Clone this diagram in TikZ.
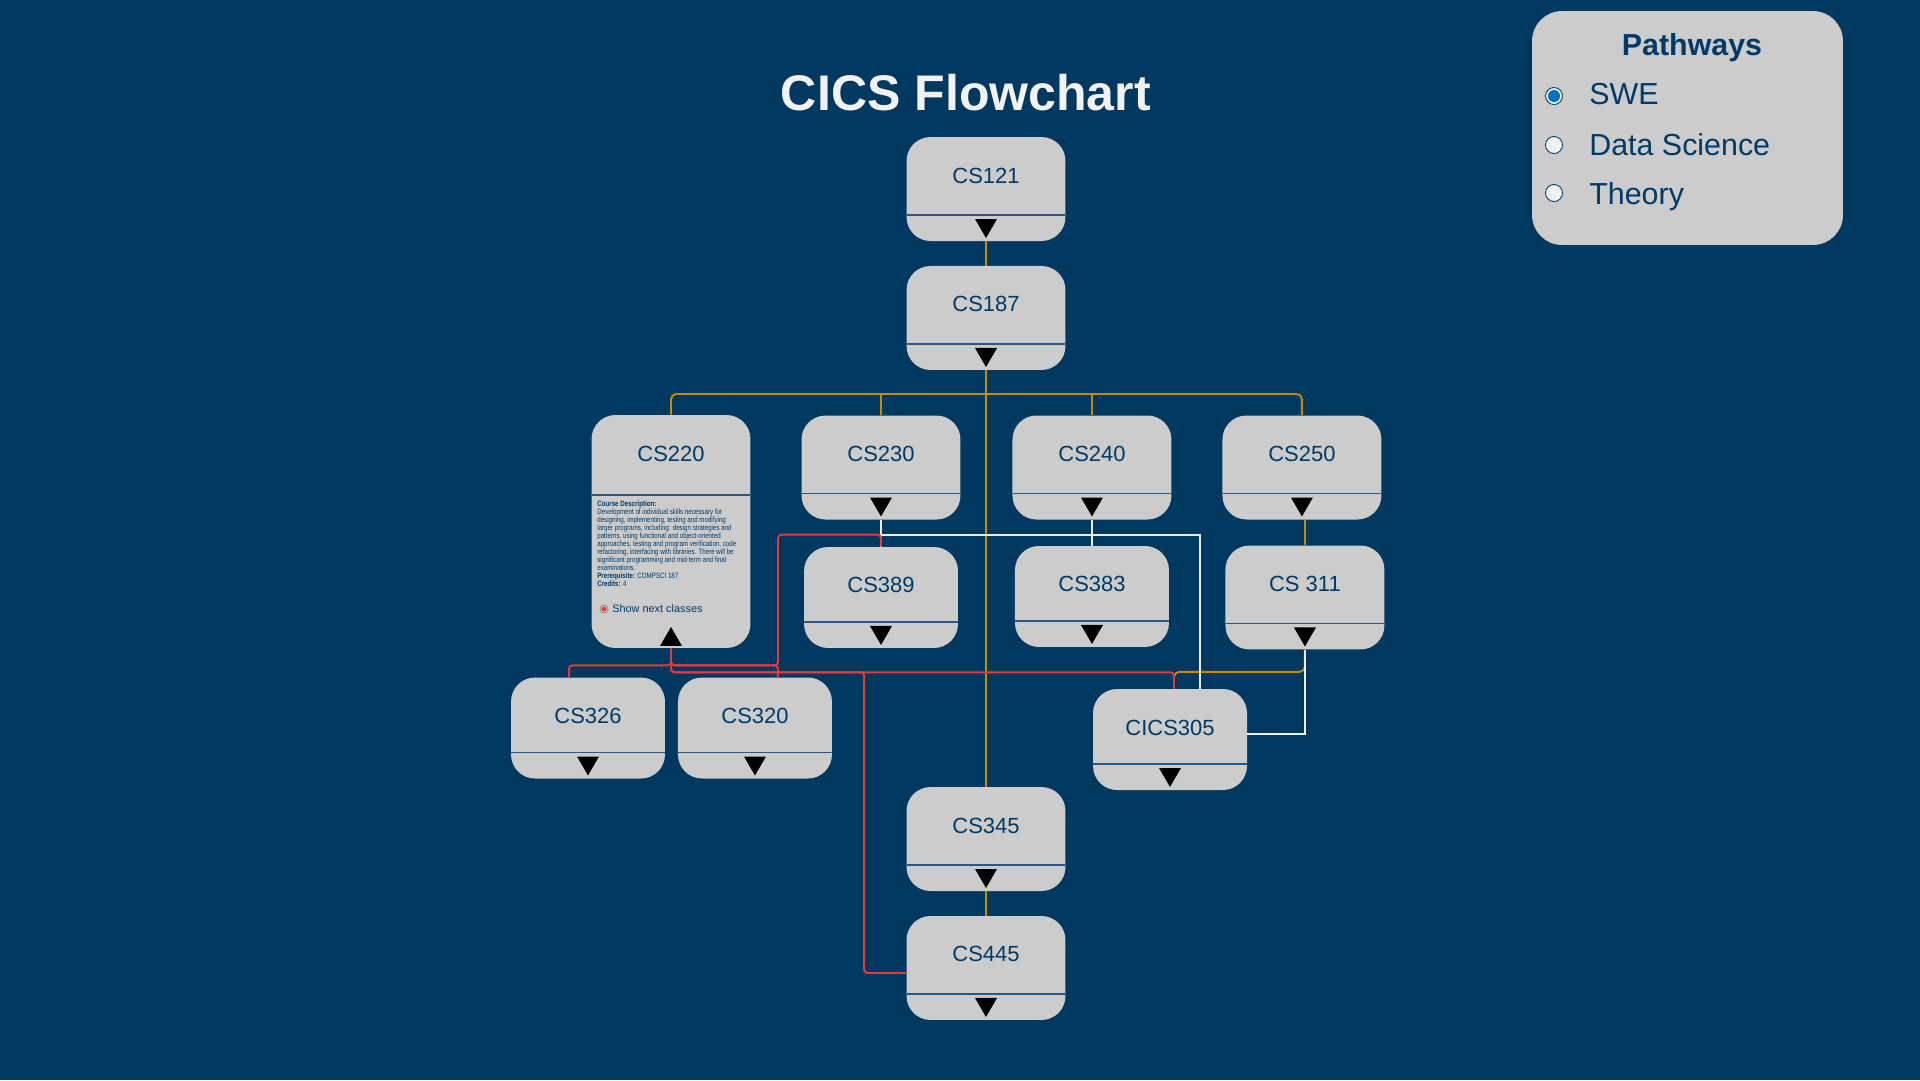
\documentclass[tikz,border=0pt]{standalone}
\usepackage{fontspec}
\setmainfont{Liberation Sans}
\newfontfamily\descfont[FakeStretch=0.8]{Liberation Sans}
\usetikzlibrary{positioning}
\definecolor{bgblue}{RGB}{0,56,96}
\definecolor{boxgray}{RGB}{204,204,204}
\definecolor{navy}{RGB}{0,58,102}
\definecolor{divblue}{RGB}{42,88,128}
\definecolor{pathgold}{RGB}{201,138,0}
\definecolor{pathred}{RGB}{228,58,58}
\definecolor{pathwhite}{RGB}{238,238,238}
\definecolor{radioblue}{RGB}{0,112,192}
\definecolor{radiowhite}{RGB}{242,242,242}
\newcommand{\descsize}{\descfont\fontsize{4.4pt}{4.54pt}\selectfont\lineskiplimit=-10pt\relax}
\tikzstyle{divider} = [draw=divblue, line width=0.85pt, sharp corners]
\tikzstyle{course} = [rectangle, fill=boxgray, rounded corners=0.48cm, minimum width=3.18cm, minimum height=2.08cm, text=navy, font=\fontsize{12.5pt}{15pt}\selectfont, text height=0.32cm, text depth=0.56cm, path picture={
    \draw[divider] ([yshift=0.52cm]path picture bounding box.south west) -- ([yshift=0.52cm]path picture bounding box.south east);
    \fill[black, sharp corners] ([xshift=-0.22cm,yshift=0.44cm]path picture bounding box.south) -- ([xshift=0.22cm,yshift=0.44cm]path picture bounding box.south) -- ([yshift=0.06cm]path picture bounding box.south) -- cycle;}]
\tikzstyle{coursesmall} = [course, minimum width=3.08cm, minimum height=2.02cm, text depth=0.5cm]
\tikzstyle{courseopen} = [rectangle, fill=boxgray, rounded corners=0.48cm, minimum width=3.18cm, minimum height=4.66cm, text=navy, font=\fontsize{12.5pt}{15pt}\selectfont, text height=0.32cm, text depth=3.14cm, path picture={
    \draw[divider] ([yshift=3.06cm]path picture bounding box.south west) -- ([yshift=3.06cm]path picture bounding box.south east);
    \fill[black, sharp corners] ([xshift=-0.22cm,yshift=0.04cm]path picture bounding box.south) -- ([xshift=0.22cm,yshift=0.04cm]path picture bounding box.south) -- ([yshift=0.42cm]path picture bounding box.south) -- cycle;}]
\tikzstyle{legendbox} = [rectangle, fill=boxgray, rounded corners=0.6cm, minimum width=6.22cm, minimum height=4.68cm]
\tikzset{
  title/.style ={anchor=base, text=radiowhite, font=\fontsize{28.5pt}{34pt}\selectfont\bfseries},
  legendhead/.style ={anchor=base, text=navy, font=\fontsize{17.3pt}{20pt}\selectfont\bfseries},
  legenditem/.style ={anchor=base west, inner sep=0pt, text=navy, font=\fontsize{17.3pt}{20pt}\selectfont},
  radiooff/.style ={circle, fill=radiowhite, draw=navy, line width=0.5pt, minimum size=0.34cm, inner sep=0pt},
  radioon/.style ={radiooff, path picture={\fill[radioblue] (path picture bounding box.center) circle (0.12cm);}},
  smallradio/.style ={circle, fill=boxgray!80, draw=gray, line width=0.4pt, minimum size=0.16cm, inner sep=0pt, path picture={\fill[pathred] (path picture bounding box.center) circle (0.05cm);}},
  desc/.style ={anchor=north west, inner sep=0pt, align=left, text=navy, font=\descsize},
  nextlabel/.style ={inner sep=0pt, text=navy, font=\fontsize{6.2pt}{7pt}\selectfont},
  goldline/.style ={draw=pathgold, line width=1.1pt, rounded corners=3pt},
  whiteline/.style ={draw=pathwhite, line width=0.9pt},
  redline/.style ={draw=pathred, line width=1.1pt, rounded corners=2pt}
}
\begin{document}
\begin{tikzpicture}[x=0.02cm, y=-0.02cm, node distance=4.2cm]
  \fill[bgblue] (0,0) rectangle (1920,1080);
  \useasboundingbox (0,0) rectangle (1920,1080);

  \node[title] (heading) at (966,110) {CICS Flowchart};

  \node[course] (cs121) at (986,189) {CS121};
  \node[course, below of=cs121, node distance=2.58cm] (cs187) {CS187};
  \node[courseopen] (cs220) at (671,531.5) {CS220};
  \node[course] (cs230) at (881,467.5) {CS230};
  \node[course, right of=cs230, node distance=4.22cm] (cs240) {CS240};
  \node[course, right of=cs240] (cs250) {CS250};
  \node[coursesmall, below of=cs230, node distance=2.6cm] (cs389) {CS389};
  \node[coursesmall, below of=cs240, node distance=2.58cm] (cs383) {CS383};
  \node[course, below of=cs250, node distance=2.6cm, xshift=0.06cm] (cs311) {CS 311};
  \node[coursesmall] (cs326) at (588,728) {CS326};
  \node[coursesmall, right of=cs326, node distance=3.34cm] (cs320) {CS320};
  \node[coursesmall] (cics305) at (1170,739.5) {CICS305};
  \node[course] (cs345) at (986,839) {CS345};
  \node[course, below of=cs345, node distance=2.58cm] (cs445) {CS445};

  \node[desc] (cs220desc) at (597,501) {\textbf{Course Description:}\\
    Development of individual skills necessary for\\
    designing, implementing, testing and modifying\\
    larger programs, including: design strategies and\\
    patterns, using functional and object-oriented\\
    approaches, testing and program verification, code\\
    refactoring, interfacing with libraries. There will be\\
    significant programming and mid-term and final\\
    examinations.\\
    \textbf{Prerequisite:} COMPSCI 187\\
    \textbf{Credits:} 4};
  \node[smallradio] (nextradio) at (604,609) {};
  \node[nextlabel, right of=nextradio, node distance=0.16cm, anchor=west] (nextlbl) {Show next classes};

  \node[legendbox] (legend) at (1687.5,128) {};
  \node[legendhead] (pwtitle) at (1692,55) {Pathways};
  \node[radioon] (rswe) at (1554,96) {};
  \node[radiooff] (rdata) at (1554,145) {};
  \node[radiooff] (rtheory) at (1554,193) {};
  \node[legenditem] (lswe) at (1589,104) {SWE};
  \node[legenditem] (ldata) at (1589,155) {Data Science};
  \node[legenditem] (ltheory) at (1589,204) {Theory};

  \coordinate (bus) at (986,394);
  \begin{scope}[every path/.style=goldline]
    \path (cs121.south) -- (cs187.north);
    \path (cs187.south) -- (cs345.north);
    \path (cs220.north) -- (cs220.north |- bus) -- (cs250.north |- bus) -- (cs250.north);
    \path (cs230.north) -- (cs230.north |- bus);
    \path (cs240.north) -- (cs240.north |- bus);
    \path (cs311.north |- cs250.south) -- (cs311.north);
    \path (cs345.south) -- (cs445.north);
    \path (cs311.south) -- ++(0,22) -| ([xshift=0.08cm]cics305.north);
  \end{scope}

  \begin{scope}[every path/.style=whiteline]
    \path (cs230.south) -- (cs389.north);
    \path (cs230.south) -- ++(0,15) -| ([xshift=0.6cm]cics305.north);
    \path (cs240.south) -- (cs383.north);
    \path (cs311.south) |- ([yshift=0.11cm]cics305.east);
  \end{scope}

  \begin{scope}[every path/.style=redline]
    \path (cs220.south) -- ++(0,17) -| ([xshift=-0.38cm]cs326.north);
    \path (cs220.south) -- ++(0,17) -| ([xshift=0.46cm]cs320.north);
    \path (cs220.south) -- ++(0,17) -- ++(107,0) |- ([yshift=0.24cm]cs389.north) -- (cs389.north);
    \path (cs220.south) -- ++(0,24) -| ([xshift=0.08cm]cics305.north);
    \path (cs220.south) -- ++(0,24) -| ([xshift=-0.84cm,yshift=-0.1cm]cs445.west) -- ([yshift=-0.1cm]cs445.west);
  \end{scope}

\end{tikzpicture}
\end{document}
